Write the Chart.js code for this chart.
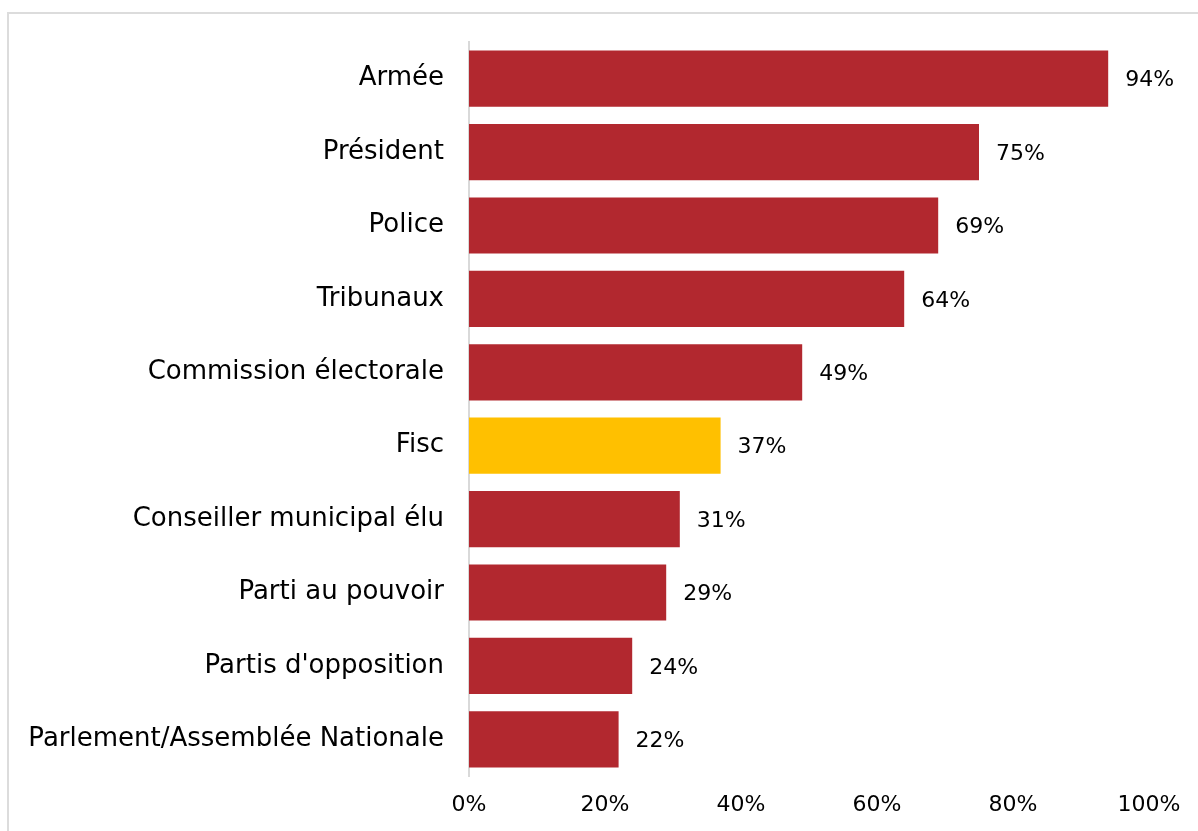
<!DOCTYPE html>
<html>
<head>
<meta charset="utf-8">
<script src="https://cdn.jsdelivr.net/npm/chart.js@4.4.1/dist/chart.umd.min.js"></script>
<style>
  html, body { margin: 0; padding: 0; background: #fff; overflow: hidden; }
  #wrap { position: relative; width: 1198px; height: 831px; overflow: hidden; }
  #frame { position: absolute; left: 7px; top: 12px; width: 1191px; height: 819px;
           border-left: 2px solid #dcdcdc; border-top: 2px solid #dcdcdc; box-sizing: border-box; }
  canvas { position: absolute; left: 0; top: 0; }
</style>
</head>
<body>
<div id="wrap">
  <div id="frame"></div>
  <canvas id="chart" width="1198" height="831"></canvas>
</div>
<script>
const categories = [
  'Armée', 'Président', 'Police', 'Tribunaux', 'Commission électorale',
  'Fisc', 'Conseiller municipal élu', 'Parti au pouvoir', "Partis d'opposition",
  'Parlement/Assemblée Nationale'
];
const values = [94, 75, 69, 64, 49, 37, 31, 29, 24, 22];
const highlight = 'Fisc';
const xTicks = [0, 20, 40, 60, 80, 100];

const RED = '#B2282F';
const YELLOW = '#FFC000';
const FONT = "'DejaVu Sans', sans-serif";

// value labels to the right of each bar
const barLabels = {
  id: 'barLabels',
  afterDatasetsDraw(chart) {
    const ctx = chart.ctx;
    const meta = chart.getDatasetMeta(0);
    ctx.save();
    ctx.font = `22px ${FONT}`;
    ctx.fillStyle = '#000';
    ctx.textAlign = 'left';
    ctx.textBaseline = 'middle';
    meta.data.forEach((bar, i) => {
      ctx.fillText(values[i] + '%', bar.x + 17, bar.y + 2);
    });
    ctx.restore();
  },
};

new Chart(document.getElementById('chart'), {
  type: 'bar',
  data: {
    labels: categories,
    datasets: [{
      data: values,
      backgroundColor: categories.map((c) => (c === highlight ? YELLOW : RED)),
      borderWidth: 0,
      barPercentage: 1,
      categoryPercentage: 0.765,
    }],
  },
  options: {
    indexAxis: 'y',
    responsive: false,
    animation: false,
    layout: { padding: { left: 0, top: 42, right: 49, bottom: 0 } },
    plugins: { legend: { display: false }, tooltip: { enabled: false } },
    scales: {
      x: {
        min: 0,
        max: 100,
        afterBuildTicks: (scale) => { scale.ticks = xTicks.map((v) => ({ value: v })); },
        afterFit: (scale) => { scale.height = 55; },
        grid: { display: false, drawTicks: false },
        border: { display: false },
        ticks: {
          padding: 16,
          color: '#000',
          font: { family: FONT, size: 22 },
          callback: (v) => v + '%',
        },
      },
      y: {
        afterFit: (scale) => { scale.width = 469; },
        grid: { display: false, drawTicks: false },
        border: { display: true, color: '#d9d9d9', width: 2 },
        ticks: {
          padding: 25,
          color: '#000',
          font: { family: FONT, size: 26 },
        },
      },
    },
  },
  plugins: [barLabels],
});
</script>
</body>
</html>
